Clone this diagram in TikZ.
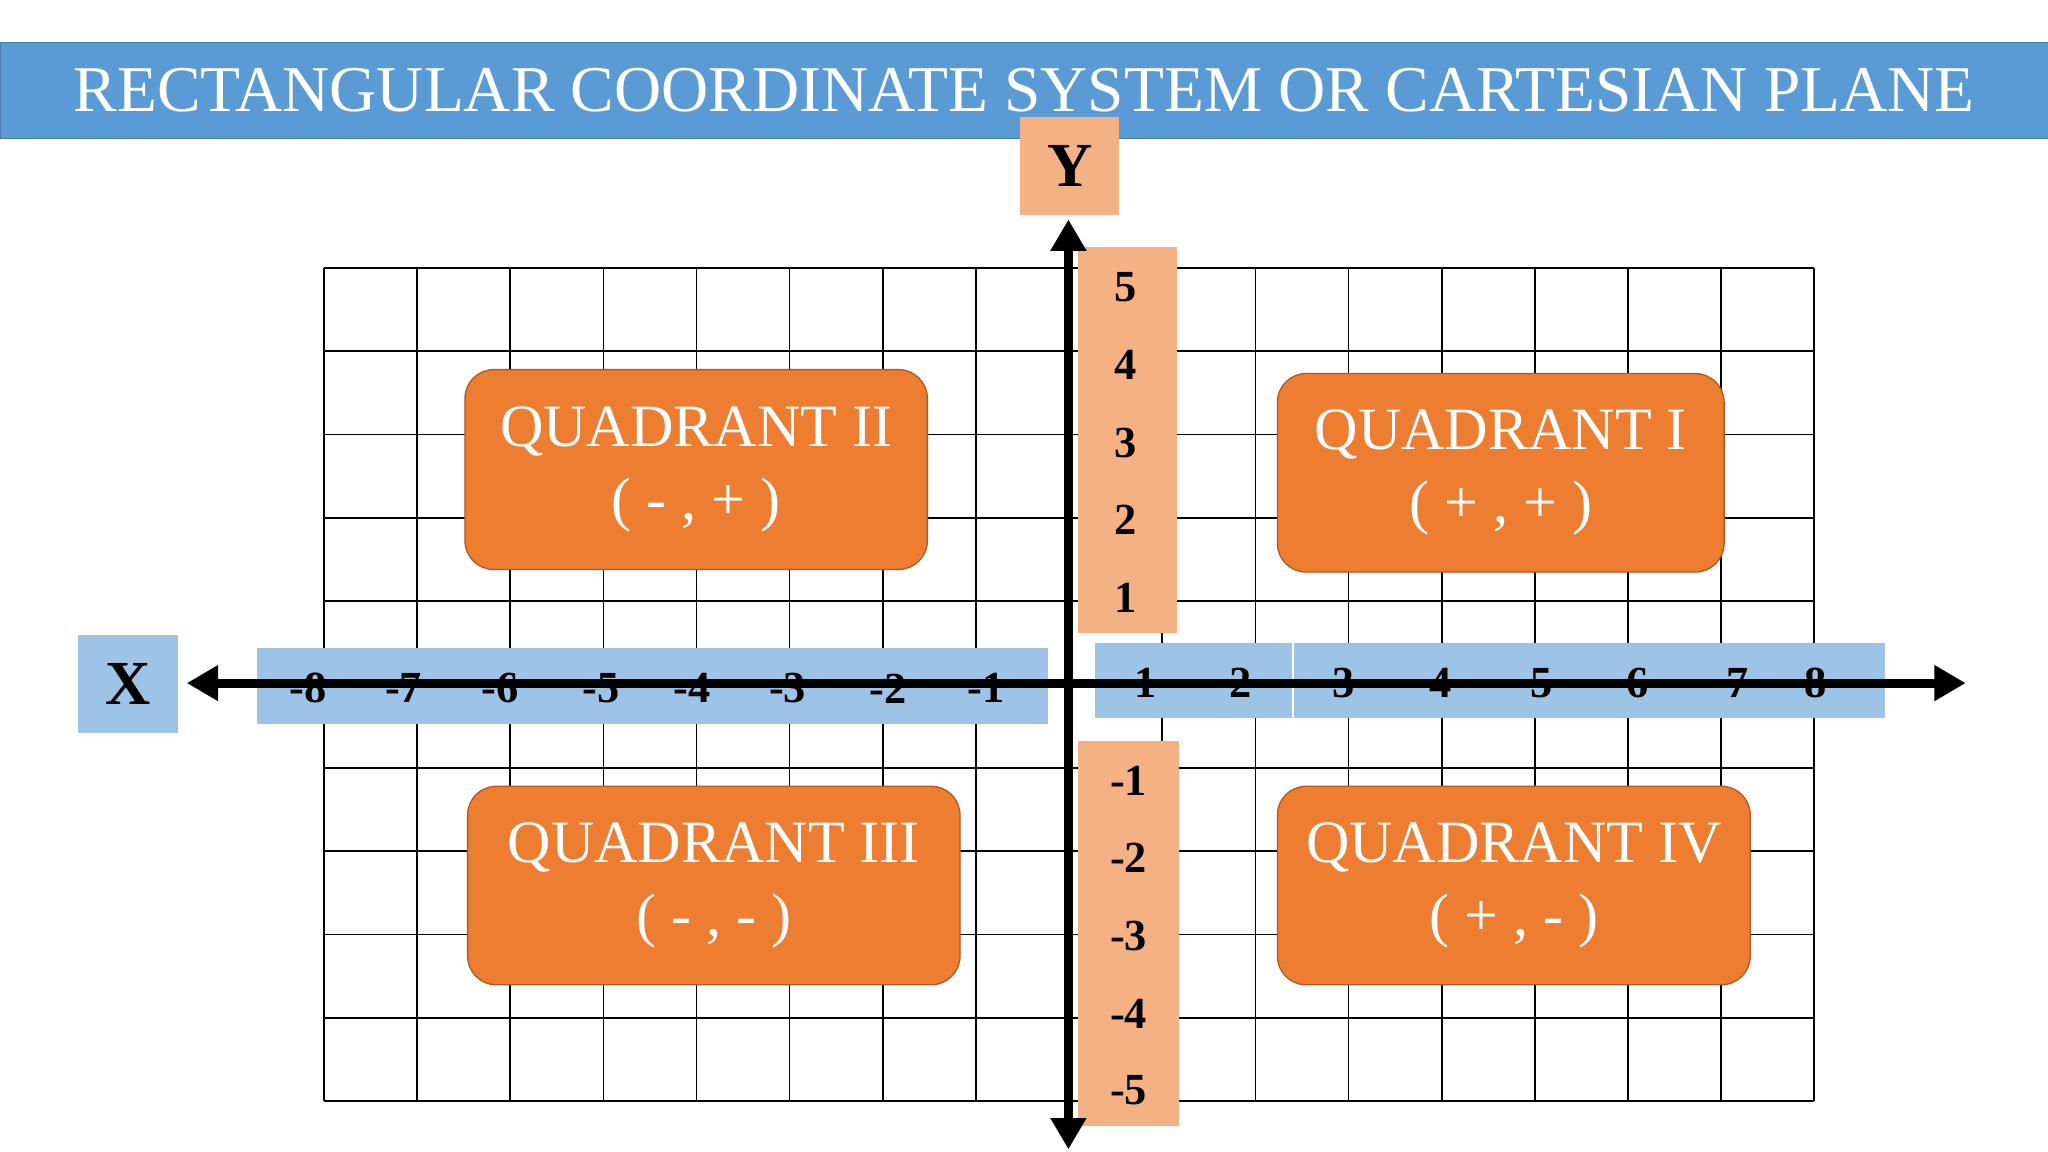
\documentclass[tikz,border=0pt]{standalone}
\usepackage{fontspec}
\setmainfont{Liberation Serif}
\usetikzlibrary{arrows.meta}
\definecolor{tblue}{HTML}{5B9BD5}
\definecolor{lblue}{HTML}{9DC3E6}
\definecolor{lorange}{HTML}{F4B183}
\definecolor{qorange}{HTML}{ED7D31}
\definecolor{qborder}{HTML}{AE5A21}
\tikzset{
 quad/.style={fill=qorange,draw=qborder,line width=1pt,rounded corners=22pt,text=white,align=center,font=\fontsize{46}{56}\selectfont,inner sep=0pt},
 num/.style={font=\bfseries\fontsize{34}{34}\selectfont,inner sep=0pt},
 axis/.style={line width=7pt,{Triangle[length=24pt,width=26pt]}-{Triangle[length=24pt,width=26pt]}},
 lbl/.style={font=\bfseries\fontsize{48}{48}\selectfont,inner sep=0pt}
}
\begin{document}
\begin{tikzpicture}[x=1pt,y=-1pt]
\useasboundingbox (0,0) rectangle (1568,882);
\fill[white] (0,0) rectangle (1568,882);
% title
\node[fill=tblue,draw=tblue!80!black,minimum width=1568pt,minimum height=74pt,inner sep=0pt,anchor=north west,text=white,font=\fontsize{50}{50}\selectfont] (title) at (0,32) {RECTANGULAR COORDINATE SYSTEM OR CARTESIAN PLANE};
% grid
\foreach \i in {0,...,16} \draw[line width=1.3pt] ({248+\i*71.3125},205) -- ({248+\i*71.3125},843);
\foreach \j in {0,...,10} \draw[line width=1.3pt] (248,{205+\j*63.8}) -- (1389,{205+\j*63.8});
% number boxes
\fill[lorange] (825,189) rectangle (901,485);
\fill[lorange] (825,567) rectangle (903,862);
\fill[lblue] (197,496) rectangle (802,554);
\fill[lblue] (838,492) rectangle (1443,550);
\draw[white,line width=1pt] (990,492) -- (990,550);
% axes
\coordinate (yt) at (818,168);
\coordinate (yb) at (818,880);
\coordinate (xl) at (143,523);
\coordinate (xr) at (1505,523);
\draw[axis] (yb) -- (yt);
\draw[axis] (xl) -- (xr);
% labels
\node[fill=lorange,minimum width=76pt,minimum height=75pt,lbl] (Y) at (819,127) {Y};
\node[fill=lblue,minimum width=76pt,minimum height=75pt,lbl] (X) at (98,524) {X};
\foreach \v/\y in {5/220,4/279,3/339,2/398,1/458} \node[num] (py\v) at (862,\y) {\v};
\foreach \v/\y in {1/598,2/657,3/717,4/776,5/835} \node[num] (ny\v) at (864,\y) {-\v};
\foreach \v/\x in {8/236,7/309,6/383,5/460,4/530,3/603,2/680,1/755} \node[num] (nx\v) at (\x,527) {-\v};
\foreach \v/\x in {1/877,2/950,3/1029,4/1103,5/1180,6/1254,7/1330,8/1390} \node[num] (px\v) at (\x,523) {\v};
% quadrants
\node[quad,minimum width=354pt,minimum height=153pt] (q2) at (533,359.5) {QUADRANT II\\( - , + )};
\node[quad,minimum width=342pt,minimum height=152pt] (q1) at (1149,362) {QUADRANT I\\( + , + )};
\node[quad,minimum width=377pt,minimum height=152pt] (q3) at (546.5,678) {QUADRANT III\\( - , - )};
\node[quad,minimum width=362pt,minimum height=152pt] (q4) at (1159,678) {QUADRANT IV\\( + , - )};
\end{tikzpicture}
\end{document}
